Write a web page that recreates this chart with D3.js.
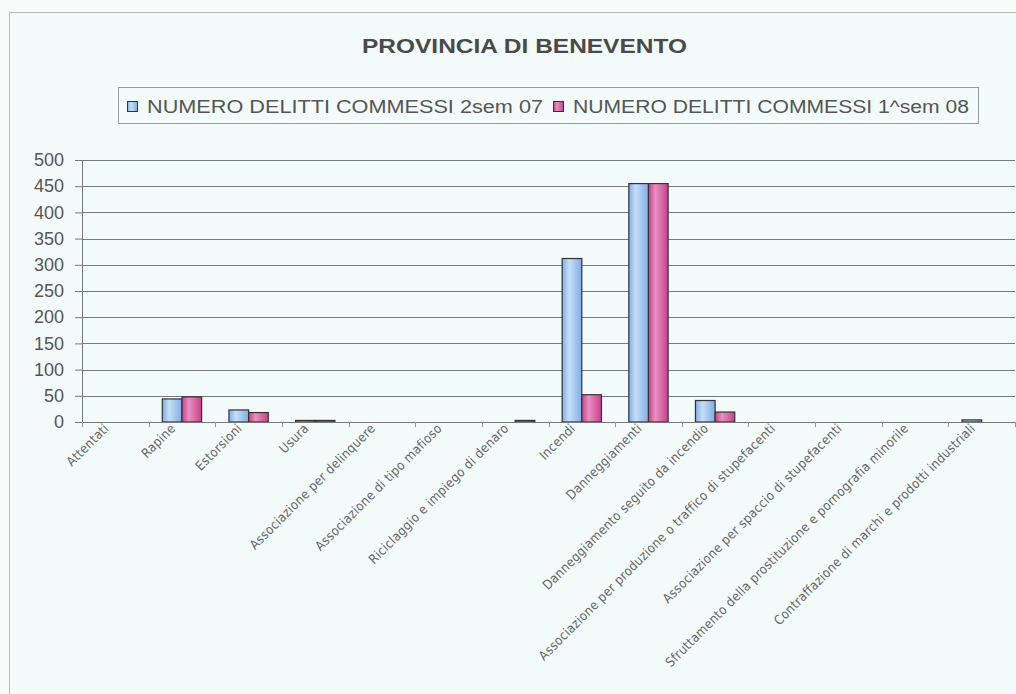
<!DOCTYPE html>
<html><head><meta charset="utf-8">
<script src="https://cdn.jsdelivr.net/npm/d3@7"></script>
<style>
body{margin:0;background:#f4fbf8;}
svg{display:block;}
</style></head>
<body>
<svg id="chart" width="1016" height="694"></svg>
<script>
const categories = ["Attentati","Rapine","Estorsioni","Usura","Associazione per delinquere","Associazione di tipo mafioso","Riciclaggio e impiego di denaro","Incendi","Danneggiamenti","Danneggiamento seguito da incendio","Associazione per produzione o traffico di stupefacenti","Associazione per spaccio di stupefacenti","Sfruttamento della prostituzione e pornografia minorile","Contraffazione di marchi e prodotti industriali"];
const seriesNames = ["NUMERO DELITTI COMMESSI 2sem 07","NUMERO DELITTI COMMESSI 1^sem 08"];
const sem2_07 = [0,44,23,3,0,0,0,312,455,41,0,0,0,4];
const sem1_08 = [0,48,18,3,0,0,3,52,455,19,0,0,0,0];
const yTicks = [0,50,100,150,200,250,300,350,400,450,500];
const title = "PROVINCIA DI BENEVENTO";

const svg = d3.select("#chart");
const W = 1016, H = 694;
const m = {left:82, right:1, top:160, bottom:272};
const plotW = W - m.left - m.right, plotH = H - m.top - m.bottom;
const sans = "Liberation Sans, Arial, sans-serif";

const defs = svg.append("defs");
function grad(id, edge, mid){
  const g = defs.append("linearGradient").attr("id", id).attr("x1","0").attr("x2","1").attr("y1","0").attr("y2","0");
  g.append("stop").attr("offset","0%").attr("stop-color", edge);
  g.append("stop").attr("offset","35%").attr("stop-color", mid);
  g.append("stop").attr("offset","100%").attr("stop-color", edge);
}
grad("gBlue", "#7eaee6", "#c6def6");
grad("gPink", "#c8408a", "#e890c0");
const fills = ["url(#gBlue)","url(#gPink)"];

// chart area background and border
svg.append("rect").attr("x",0).attr("y",0).attr("width",W).attr("height",H).attr("fill","#f6fcfa");
svg.append("rect").attr("x",9.5).attr("y",12.5).attr("width",W+20).attr("height",H+20)
  .attr("fill","#f3fbfa").attr("stroke","#b8bcb8").attr("stroke-width",1);

// title
svg.append("text").attr("x",362).attr("y",52.5)
  .attr("font-family",sans).attr("font-weight","bold")
  .attr("font-size",19.5).attr("fill","#4a4a4a")
  .attr("textLength",325).attr("lengthAdjust","spacingAndGlyphs").text(title);

// legend
const lg = svg.append("g");
lg.append("rect").attr("x",118.5).attr("y",87.5).attr("width",860).attr("height",36)
  .attr("fill","none").attr("stroke","#999").attr("stroke-width",1);
const legX = [127, 553];
seriesNames.forEach((n,i)=>{
  lg.append("rect").attr("x",legX[i]+0.5).attr("y",101.5).attr("width",10).attr("height",10)
    .attr("fill",fills[i]).attr("stroke","#333").attr("stroke-width",1);
  lg.append("text").attr("x",legX[i]+20).attr("y",112.5).attr("font-family",sans)
    .attr("font-size",18).attr("fill","#555")
    .attr("textLength",396).attr("lengthAdjust","spacingAndGlyphs").text(n);
});

const g = svg.append("g").attr("transform",`translate(${m.left},${m.top})`);
const x0 = d3.scaleBand().domain(categories).range([0,plotW]).paddingInner(0.41).paddingOuter(0.205);
const x1 = d3.scaleBand().domain([0,1]).range([0,x0.bandwidth()]);
const y = d3.scaleLinear().domain([0,500]).range([plotH,0]);

// gridlines
g.append("g").selectAll("line").data(yTicks.filter(d=>d>0)).join("line")
  .attr("x1",0).attr("x2",plotW).attr("y1",d=>Math.round(y(d))+0.5).attr("y2",d=>Math.round(y(d))+0.5)
  .attr("stroke","#7a7a7a").attr("stroke-width",1.2);

// y axis
const yAxis = g.append("g").call(d3.axisLeft(y).tickValues(yTicks).tickSize(7).tickPadding(11));
yAxis.select(".domain").attr("stroke","#777");
yAxis.selectAll(".tick line").attr("stroke","#777");
yAxis.selectAll("text").attr("font-family",sans).attr("font-size",18).attr("fill","#555");

// bars
const data = categories.map((c,i)=>({c, v:[sem2_07[i], sem1_08[i]]}));
const grp = g.append("g").selectAll("g").data(data).join("g").attr("transform",d=>`translate(${x0(d.c)},0)`);
grp.selectAll("rect").data(d=>d.v.map((v,k)=>({v,k})).filter(e=>e.v>0)).join("rect")
  .attr("x",e=>x1(e.k)).attr("width",x1.bandwidth())
  .attr("y",e=>y(e.v)).attr("height",e=>plotH - y(e.v))
  .attr("fill",e=>fills[e.k]).attr("stroke","#333").attr("stroke-width",1.2);

// x axis
const step = x0.step();
const xAxisG = g.append("g").attr("transform",`translate(0,${plotH})`);
xAxisG.append("line").attr("x1",0).attr("x2",plotW).attr("y1",0.5).attr("y2",0.5).attr("stroke","#777").attr("stroke-width",1.2);
xAxisG.selectAll("line.tk").data(d3.range(categories.length+1)).join("line").attr("class","tk")
  .attr("x1",i=>Math.round(i*step)+0.5).attr("x2",i=>Math.round(i*step)+0.5).attr("y1",0).attr("y2",5).attr("stroke","#999");
xAxisG.selectAll("text").data(categories).join("text")
  .attr("transform",d=>`translate(${x0(d)+x0.bandwidth()/2-9},${4}) rotate(-45)`)
  .attr("text-anchor","end").attr("dy","0.35em")
  .attr("font-family","Liberation Sans Narrow, DejaVu Sans Condensed, Arial Narrow, sans-serif")
  .attr("font-size",13).attr("letter-spacing",0.25).attr("fill","#666").text(d=>d);
</script>
</body></html>
